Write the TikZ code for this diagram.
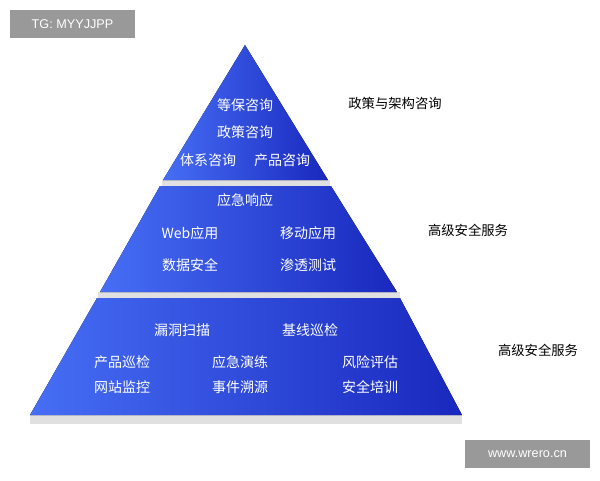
\documentclass[tikz,border=0pt]{standalone}
\usepackage{fontspec}
\setmainfont{Liberation Sans}
\newfontfamily\cjk{Noto Sans CJK SC}
\begin{document}
\begin{tikzpicture}[x=0.75pt,y=-0.75pt,
  tier/.style={left color=blue!65!cyan!60!white!85!blue, right color=blue!70!black, middle color=blue!75!cyan!70},
  lbl/.style={text=white,font=\cjk\fontsize{10.5}{12}\selectfont},
  side/.style={text=black,font=\cjk\fontsize{10}{12}\selectfont},
  wm/.style={fill=black!40,text=white,font=\fontsize{9.5}{11}\selectfont,inner sep=0pt}]
\useasboundingbox (0,0) rectangle (600,480);
% shadows
\fill[black!12] (30,415) rectangle (462,424);
\fill[black!12] (162,180) rectangle (330,188);
\fill[black!12] (98,292) rectangle (400,298);
% tiers
\fill[left color={rgb,255:red,70;green,110;blue,245}, right color={rgb,255:red,25;green,40;blue,190}] (245,45) -- (328,180) -- (163,180) -- cycle;
\fill[left color={rgb,255:red,70;green,110;blue,245}, right color={rgb,255:red,25;green,40;blue,190}] (160,186) -- (331,186) -- (397,292) -- (100,292) -- cycle;
\fill[left color={rgb,255:red,70;green,110;blue,245}, right color={rgb,255:red,25;green,40;blue,190}] (97,298) -- (400,298) -- (462,415) -- (30,415) -- cycle;
% texts
\node[lbl] (a1) at (245,105) {等保咨询};
\node[lbl] (a2) at (245,132) {政策咨询};
\node[lbl] (a3) at (208,160) {体系咨询};
\node[lbl] (a4) at (282,160) {产品咨询};
\node[lbl] (b1) at (245,200) {应急响应};
\node[lbl] (b2) at (190,233) {Web应用};
\node[lbl] (b3) at (308,233) {移动应用};
\node[lbl] (b4) at (190,265) {数据安全};
\node[lbl] (b5) at (308,265) {渗透测试};
\node[lbl] (c1) at (182,330) {漏洞扫描};
\node[lbl] (c2) at (310,330) {基线巡检};
\node[lbl] (c3) at (122,362) {产品巡检};
\node[lbl] (c4) at (240,362) {应急演练};
\node[lbl] (c5) at (370,362) {风险评估};
\node[lbl] (c6) at (122,387) {网站监控};
\node[lbl] (c7) at (240,387) {事件溯源};
\node[lbl] (c8) at (370,387) {安全培训};
\node[side] (s1) at (395,103) {政策与架构咨询};
\node[side] (s2) at (468,230) {高级安全服务};
\node[side] (s3) at (538,350) {高级安全服务};
\node[wm,minimum width=94pt,minimum height=21pt] (w1) at (72.5,24) {TG: MYYJJPP};
\node[wm,minimum width=94pt,minimum height=21pt] (w2) at (527.5,454) {www.wrero.cn};
\end{tikzpicture}
\end{document}
